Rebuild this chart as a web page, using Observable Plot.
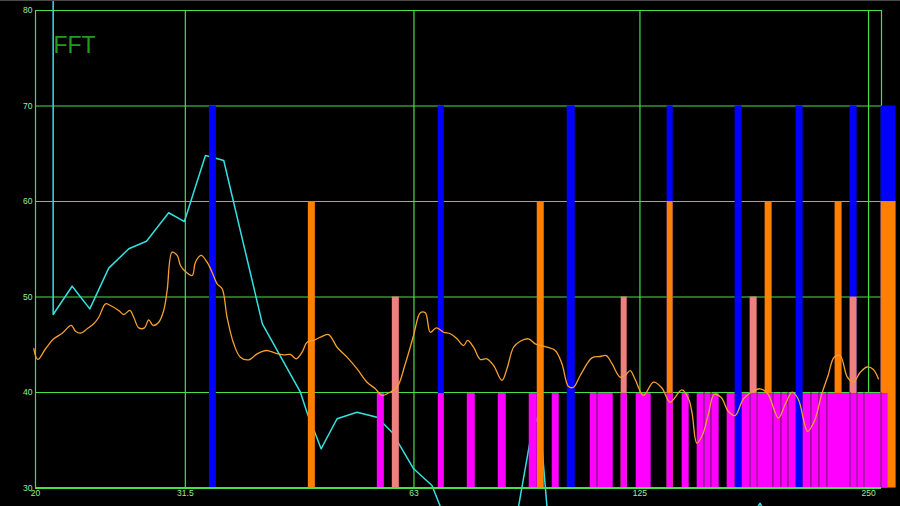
<!DOCTYPE html>
<html><head><meta charset="utf-8">
<script src="https://cdn.jsdelivr.net/npm/d3@7"></script>
<script src="https://cdn.jsdelivr.net/npm/@observablehq/plot@0.6"></script>
<style>
html,body{margin:0;padding:0;background:#000;overflow:hidden;}
#chart{position:relative;width:900px;height:506px;}
#topline{position:absolute;left:0;top:0;width:900px;height:1px;background:#4a4a4a;}
</style></head><body><div id="chart"><div id="topline"></div></div>
<script>
// ---- data ----
const xTicks = [20, 31.5, 63, 125, 250];
const xTickLabels = ["20", "31.5", "63", "125", "250"];
const yTicks = [30, 40, 50, 60, 70, 80];
const xDomain = [20, 260];
const yDomain = [30, 80];
const title = "FFT";

// bins [lowFreq, highFreq] and their level per colour group
const barLevels = {blue: 70, orange: 60, salmon: 50, magenta: 40};
const blueBins = [[33.89,34.61],[67.83,69.07],[100.27,102.73],[135.76,138.25],[166.83,170.40],[200.70,205.00],[236.38,241.44],[259.66,271.73]];
const orangeBins = [[45.74,46.72],[91.56,93.52],[135.76,138.25],[182.70,186.62],[225.87,230.72],[259.66,271.73]];
const salmonBins = [[59.00,60.27],[118.09,120.26],[174.58,178.33],[236.38,241.44]];
const magentaBins = [[56.38,57.59],[67.83,69.07],[74.06,75.87],[81.35,83.35],[89.36,91.56],[95.81,97.87],[107.51,109.81],[109.81,115.27],[118.09,120.26],[123.59,129.33],[135.76,138.25],[142.07,145.12],[148.68,151.87],[151.87,155.12],[155.12,158.93],[162.83,166.83],[170.40,174.58],[174.58,178.33],[178.33,187.18],[187.18,191.78],[191.78,195.89],[195.89,200.70],[205.00,210.03],[210.03,215.18],[215.18,220.46],[220.46,236.38],[236.38,241.44],[241.44,246.62],[246.62,259.66],[259.66,265.23]];

// cyan trace [freq, dB]
const cyanTrace = [[21.10,85],[21.10,48.17],[22.35,51.13],[23.58,48.76],[24.97,53.02],[26.54,55.05],[28.00,55.84],[29.95,58.82],[31.04,58.12],[31.41,57.91],[33.48,64.82],[34.17,64.64],[35.39,64.29],[39.79,47.19],[44.65,40.03],[45.60,37.80],[46.72,35.68],[47.54,34.10],[49.90,37.25],[53.01,37.94],[56.33,37.41],[58.95,35.84],[62.94,32.01],[66.54,30.26],[68.24,28.06],[74,22],[84,22],[86.51,28.06],[89.45,34.63],[91.0,37.5],[92.5,36],[94.29,28.06],[100,22],[170,22],[177.2,27.6],[179.95,28.4],[182.1,27.6],[190,22],[260,22]];

// orange trace [freq, dB]
const orangeTrace = [[19.90,44.58],[20.14,43.46],[20.62,44.58],[21.14,45.62],[21.69,46.21],[22.29,47.02],[22.58,46.42],[22.92,46.21],[23.39,46.67],[23.86,47.19],[24.23,47.88],[24.73,49.29],[25.10,49.11],[25.74,48.59],[26.14,48.17],[26.62,48.59],[26.94,47.88],[27.35,46.77],[27.83,46.77],[28.19,47.61],[28.57,47.02],[29.06,47.36],[29.50,48.59],[29.81,50.68],[30.26,54.69],[30.73,54.35],[31.04,53.30],[31.41,52.77],[32.16,52.25],[32.48,53.64],[33.04,54.35],[33.65,53.64],[34.16,52.60],[34.69,51.38],[35.22,50.86],[35.75,47.88],[36.48,45.10],[37.22,43.70],[38.17,43.42],[39.16,44.05],[40.28,44.40],[41.39,44.12],[42.44,43.95],[43.31,43.98],[44.11,43.53],[44.88,44.22],[45.56,45.27],[46.48,45.45],[47.44,45.79],[48.64,46.07],[49.90,44.74],[51.43,43.70],[53.02,42.48],[54.65,41.08],[56.04,40.39],[57.19,39.69],[58.34,39.95],[59.85,40.55],[61.37,43.01],[62.93,45.97],[64.23,48.35],[65.21,48.35],[66.20,46.31],[67.42,46.77],[68.92,46.31],[70.34,46.15],[71.78,45.62],[73.23,44.92],[74.12,45.45],[75.48,44.74],[77.03,43.46],[78.61,43.53],[80.20,42.83],[82.27,41.26],[83.52,42.48],[85.21,44.74],[86.96,45.37],[89.17,45.62],[91.00,45.10],[94.29,44.74],[96.69,44.40],[98.67,43.01],[100.66,40.63],[102.20,40.55],[104.30,41.78],[108.06,43.63],[110.81,43.77],[112.85,43.87],[114.81,43.04],[117.74,41.60],[119.54,41.78],[121.36,42.30],[123.21,41.36],[126.35,39.69],[130.24,41.08],[133.60,40.47],[137.00,38.98],[141.94,40.28],[144.81,39.37],[146.44,37.80],[148.54,34.71],[151.18,35.60],[153.86,37.77],[156.54,39.79],[159.90,39.48],[163.47,38.01],[166.83,37.59],[171.07,39.34],[175.91,40.10],[179.95,40.39],[184.09,39.90],[190.21,37.33],[194.12,38.74],[198.28,40.03],[202.10,39.27],[207.81,35.92],[212.27,37.07],[216.95,39.86],[221.13,41.78],[225.19,43.70],[229.32,43.87],[234.45,41.60],[238.75,41.08],[243.65,42.09],[248.87,42.67],[253.67,42.41],[257.54,41.43]];

// ---- styles ----
const gridColor = "#48e048";
const labelColor = "#9cec9c";
const colors = {blue: "#0000ff", orange: "#ff8000", salmon: "#f08080", magenta: "#ff00ff"};

const toRects = (bins, key) => bins.map(([lo, hi]) => ({lo, hi, top: barLevels[key]}));
const seps = magentaBins.filter((b, i) => i > 0 && b[0] === magentaBins[i - 1][1]).map(b => b[0]);

const chart = Plot.plot({
  width: 900,
  height: 506,
  marginLeft: 35,
  marginRight: 19,
  marginTop: 10,
  marginBottom: 18.5,
  style: {background: "black", fontFamily: "'Liberation Sans', Arial, sans-serif", overflow: "hidden"},
  x: {type: "log", domain: xDomain, axis: null},
  y: {domain: yDomain, axis: null},
  marks: [
    Plot.ruleY(yTicks, {y: d => d, x1: () => xDomain[0], x2: () => xDomain[1], stroke: gridColor, strokeWidth: 1.2}),
    Plot.ruleX([...xTicks, xDomain[1]], {x: d => d, y1: () => yDomain[0], y2: () => yDomain[1], stroke: gridColor, strokeWidth: 1.2}),
    Plot.line(cyanTrace, {x: d => d[0], y: d => d[1], stroke: "#35e0e0", strokeWidth: 1.5}),
    Plot.rect(toRects(blueBins, "blue"), {x1: "lo", x2: "hi", y1: () => 30, y2: "top", fill: colors.blue}),
    Plot.rect(toRects(orangeBins, "orange"), {x1: "lo", x2: "hi", y1: () => 30, y2: "top", fill: colors.orange}),
    Plot.rect(toRects(salmonBins, "salmon"), {x1: "lo", x2: "hi", y1: () => 30, y2: "top", fill: colors.salmon}),
    Plot.rect(toRects(magentaBins, "magenta"), {x1: "lo", x2: "hi", y1: () => 30, y2: "top", fill: colors.magenta, insetTop: 1}),
    Plot.ruleX(seps, {x: d => d, y1: () => 30, y2: () => 40, stroke: "#7a227a", strokeWidth: 1}),
    Plot.ruleY([30], {y: d => d, x1: () => xDomain[0], x2: () => xDomain[1], stroke: gridColor, strokeWidth: 2}),
    Plot.line(orangeTrace, {x: d => d[0], y: d => d[1], stroke: "#f5a030", strokeWidth: 1.3, curve: "catmull-rom"}),
    Plot.text(xTicks, {x: d => d, text: (d, i) => xTickLabels[i], frameAnchor: "bottom", lineAnchor: "top", dy: 2, fill: labelColor, fontSize: 8.5}),
    Plot.text(yTicks, {y: d => d, text: d => String(d), frameAnchor: "left", textAnchor: "end", dx: -3, fill: labelColor, fontSize: 8.5}),
    Plot.text([title], {text: d => d, frameAnchor: "top-left", textAnchor: "start", lineAnchor: "top", dx: 18, dy: 26, fill: "#229a22", fontSize: 23})
  ]
});
document.getElementById("chart").appendChild(chart);
</script>
</body></html>
